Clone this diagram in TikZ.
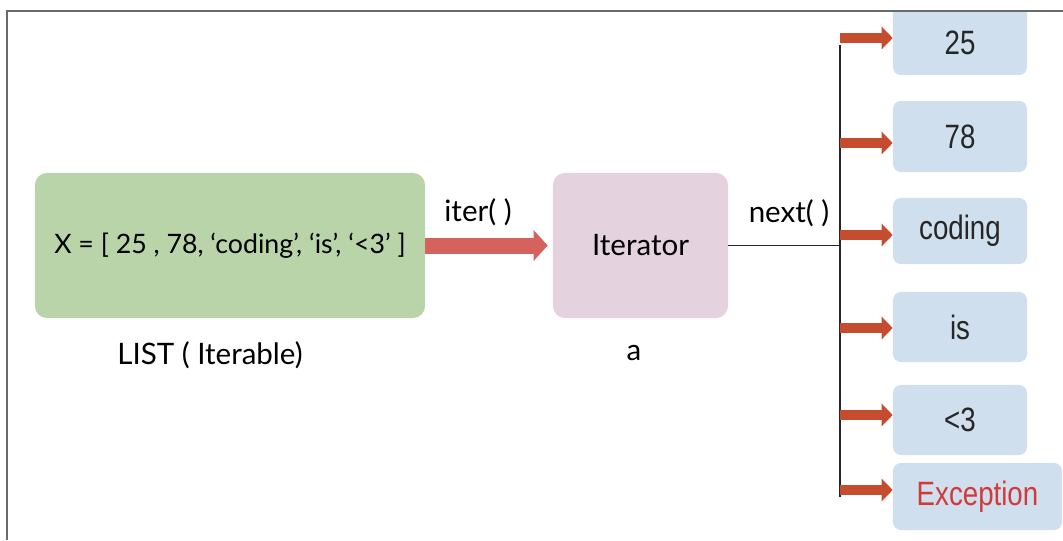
\documentclass[tikz,border=0pt]{standalone}
\usepackage{fontspec}
\setmainfont{Liberation Sans}
\newfontfamily\comicfont{Lato}
\usepackage{xcolor}
\usetikzlibrary{arrows.meta, math}

\definecolor{listgreen}{RGB}{184,212,168}
\definecolor{iterpink}{RGB}{228,210,222}
\definecolor{valblue}{RGB}{207,223,238}
\definecolor{iterred}{RGB}{214,98,94}
\definecolor{nextred}{RGB}{198,76,48}
\definecolor{excred}{RGB}{210,58,58}
\definecolor{framegray}{RGB}{107,107,107}

\newcommand{\valtext}[1]{\scalebox{0.82}[1]{#1}}

\begin{document}
\begin{tikzpicture}[x=0.025cm, y=-0.025cm,
  bigbox/.style={rounded corners=0.3cm, minimum height=3.625cm, inner sep=0pt,
    font=\comicfont\fontsize{21}{25}\selectfont},
  comictext/.style={inner sep=0pt, font=\comicfont\fontsize{21}{25}\selectfont},
  valbox/.style={fill=valblue, rounded corners=0.2cm, minimum width=3.35cm,
    inner sep=0pt, text=black!85, font=\fontsize{24}{28}\selectfont},
  bigarrow/.style={draw=iterred, line width=0.4cm,
    -{Triangle[length=0.35cm, width=0.75cm]}},
  smallarrow/.style={draw=nextred, line width=0.25cm,
    -{Triangle[length=0.275cm, width=0.55cm]}},
  spine/.style={line width=0.9pt, draw=black!85},
  ]
\tikzmath{
\sx=840;
}
\useasboundingbox (0,0) rectangle (1063,540);

\node[bigbox, fill=listgreen, minimum width=9.75cm] (list) at (230,245.5)
  {\fontsize{19}{23}\selectfont X = [ 25 , 78, ‘coding’, ‘is’, ‘<3’ ]};
\node[bigbox, fill=iterpink, minimum width=4.375cm] (iter) at (640.5,245.5) {Iterator};
\node[comictext] (listlbl) at (210,355) {LIST ( Iterable)};
\node[comictext] (iterlbl) at (634,353) {a};

\draw[bigarrow, shorten >=0.125cm] (list.east) -- (iter.west);
\node[comictext] (iterfn) at (478,212) {iter( )};

% values returned by next()
\node[valbox, minimum height=1.6cm] (v25) at (960,43) {\valtext{25}};
\fill[valblue] (v25.north west) rectangle ([yshift=-0.3cm]v25.north east);
\node[valbox, minimum height=1.775cm] (v78) at (960,136.5) {\valtext{78}};
\node[valbox, minimum height=1.65cm] (vcod) at (960,231) {\valtext{coding}};
\node[valbox, minimum height=1.75cm] (vis) at (960,327) {\valtext{is}};
\node[valbox, minimum height=1.75cm] (vlt) at (960,420) {\valtext{<3}};
\node[valbox, minimum height=1.675cm, minimum width=4.225cm, text=excred]
  (vexc) at (977.5,496.5) {\valtext{Exception}};

\coordinate (stop) at (\sx,45);
\coordinate (sbot) at (\sx,497);
\draw[spine] (stop) -- (sbot);
\draw[spine] (iter.east) -- (iter.east -| stop);
\node[comictext] (nextfn) at (789,213) {next( )};

\foreach \v/\y in {v25/38, v78/143, vcod/235, vis/328, vlt/415, vexc/490}{
 \coordinate (t\v) at (\sx,\y);
 \draw[smallarrow] (t\v) -- (t\v -| \v.west);
}

% frame
\fill[white] (0,0) rectangle (1063,11);
\draw[framegray, line width=0.9pt] (7,540) -- (7,11) -- (1063,11);
\end{tikzpicture}
\end{document}
